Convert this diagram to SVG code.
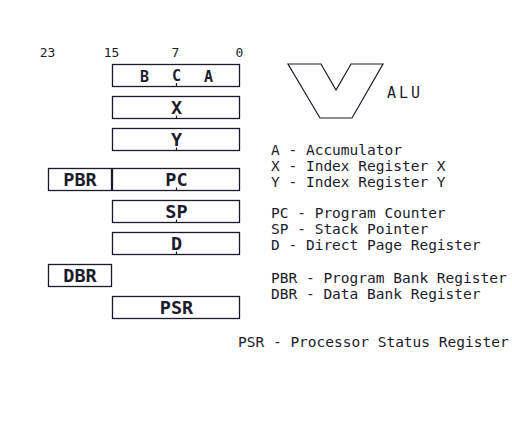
<svg xmlns="http://www.w3.org/2000/svg" width="512" height="448" viewBox="0 0 512 448">
<style>
.box{fill:#fff;stroke:#1c1c2c;stroke-width:1.3}
.lbl{font-family:"DejaVu Sans Mono",monospace;font-size:18.5px;font-weight:bold;fill:#1c1c2c;text-anchor:middle}
.sub{font-family:"DejaVu Sans Mono",monospace;font-size:15px;font-weight:bold;fill:#1c1c2c;text-anchor:middle}
.bit{font-family:"DejaVu Sans Mono",monospace;font-size:13px;fill:#1c1c2c;text-anchor:middle}
.leg{font-family:"DejaVu Sans Mono",monospace;font-size:14.5px;fill:#1c1c2c}
.tick{stroke:#1c1c2c;stroke-width:1.2}
</style>
<rect width="512" height="448" fill="#fff"/>
<g id="bits">
<text class="bit" x="47.5" y="57">23</text>
<text class="bit" x="111.5" y="57">15</text>
<text class="bit" x="175.5" y="57">7</text>
<text class="bit" x="239.5" y="57">0</text>
</g>
<g id="acc">
<rect class="box" x="112.5" y="64.5" width="127" height="22"/>
<text class="sub" x="144.5" y="82">B</text>
<text class="sub" x="176.5" y="81" font-size="13.5">C</text>
<text class="sub" x="208.5" y="82">A</text>
</g>
<g id="x">
<rect class="box" x="112.5" y="96.5" width="127" height="22"/>
<text class="lbl" x="176.5" y="113.5">X</text>
</g>
<g id="y">
<rect class="box" x="112.5" y="128.5" width="127" height="22"/>
<text class="lbl" x="176.5" y="145.5">Y</text>
</g>
<g id="pbr">
<rect class="box" x="48.5" y="168.5" width="63" height="22"/>
<text class="lbl" x="80" y="185.5">PBR</text>
</g>
<g id="pc">
<rect class="box" x="112.5" y="168.5" width="127" height="22"/>
<text class="lbl" x="176.5" y="185.5">PC</text>
</g>
<g id="sp">
<rect class="box" x="112.5" y="200.5" width="127" height="22"/>
<text class="lbl" x="176.5" y="217.5">SP</text>
</g>
<g id="d">
<rect class="box" x="112.5" y="232.5" width="127" height="22"/>
<text class="lbl" x="176.5" y="249.5">D</text>
</g>
<g id="dbr">
<rect class="box" x="48.5" y="264.5" width="63" height="22"/>
<text class="lbl" x="80" y="281.5">DBR</text>
</g>
<g id="psr">
<rect class="box" x="112.5" y="296.5" width="127" height="22"/>
<text class="lbl" x="176.5" y="313.5">PSR</text>
</g>
<g id="ticks">
<line class="tick" x1="176.5" y1="83" x2="176.5" y2="86.5"/>
<line class="tick" x1="176.5" y1="115.5" x2="176.5" y2="118.5"/>
<line class="tick" x1="176.5" y1="147.5" x2="176.5" y2="150.5"/>
<line class="tick" x1="176.5" y1="187.5" x2="176.5" y2="190.5"/>
<line class="tick" x1="176.5" y1="219.5" x2="176.5" y2="222.5"/>
<line class="tick" x1="176.5" y1="251.5" x2="176.5" y2="254.5"/>
</g>
<g id="alu">
<polygon points="288,64 321,64 336,90 351,64 383,64 352,118 320,118" fill="#fff" stroke="#1c1c2c" stroke-width="1.2"/>
<text x="387" y="97.5" font-family="DejaVu Sans Mono,monospace" font-size="15" letter-spacing="3" fill="#1c1c2c">ALU</text>
</g>
<g id="legend">
<text class="leg" x="271" y="155">A - Accumulator</text>
<text class="leg" x="271" y="171">X - Index Register X</text>
<text class="leg" x="271" y="187">Y - Index Register Y</text>
<text class="leg" x="271" y="218">PC - Program Counter</text>
<text class="leg" x="271" y="234">SP - Stack Pointer</text>
<text class="leg" x="271" y="250">D - Direct Page Register</text>
<text class="leg" x="271" y="283">PBR - Program Bank Register</text>
<text class="leg" x="271" y="299">DBR - Data Bank Register</text>
<text class="leg" x="238" y="347">PSR - Processor Status Register</text>
</g>
</svg>
